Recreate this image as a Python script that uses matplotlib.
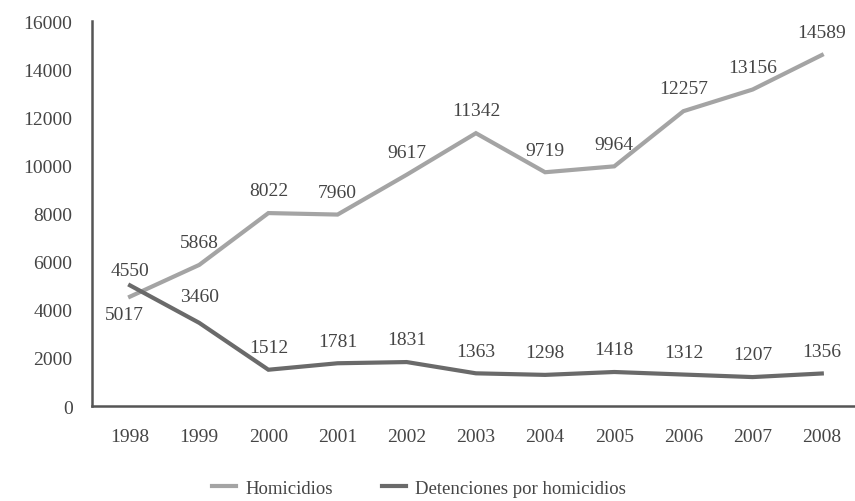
import matplotlib
matplotlib.use("Agg")
import matplotlib.pyplot as plt

years = [1998, 1999, 2000, 2001, 2002, 2003, 2004, 2005, 2006, 2007, 2008]
homicidios = [4550, 5868, 8022, 7960, 9617, 11342, 9719, 9964, 12257, 13156, 14589]
detenciones = [5017, 3460, 1512, 1781, 1831, 1363, 1298, 1418, 1312, 1207, 1356]
y_ticks = [0, 2000, 4000, 6000, 8000, 10000, 12000, 14000, 16000]

plt.rcParams["font.family"] = ["Liberation Serif", "DejaVu Serif"]

light = "#a4a4a4"
dark = "#6a6a6a"
txt = "#454545"

fig = plt.figure(figsize=(8.55, 5.02), dpi=100)
ax = fig.add_axes([0.1076, 0.189, 0.8924, 0.767])

x = list(range(len(years)))
ax.plot(x, homicidios, color=light, lw=3.0, label="Homicidios", solid_joinstyle="miter")
ax.plot(x, detenciones, color=dark, lw=3.0, label="Detenciones por homicidios",
        solid_joinstyle="miter")

# value labels
for i, v in enumerate(homicidios):
    dy = 19 if i == 0 else 16
    ax.annotate(str(v), (i, v), xytext=(0, dy), textcoords="offset points",
                ha="center", va="center", fontsize=14, color=txt)
for i, v in enumerate(detenciones):
    if i == 0:
        off = (-4, -21)
    elif i == 1:
        off = (0, 19)
    else:
        off = (0, 16)
    ax.annotate(str(v), (i, v), xytext=off, textcoords="offset points",
                ha="center", va="center", fontsize=14, color=txt)

ax.set_xlim(-0.55, 10.48)
ax.set_ylim(0, 16000)
ax.set_xticks(x)
ax.set_xticklabels([str(y) for y in years])
ax.set_yticks(y_ticks)
ax.set_yticklabels([str(t) for t in y_ticks])
ax.tick_params(length=0, labelsize=14, colors=txt)
ax.tick_params(axis="x", pad=16)
ax.tick_params(axis="y", pad=14)

for s in ["top", "right"]:
    ax.spines[s].set_visible(False)
for s in ["left", "bottom"]:
    ax.spines[s].set_color("#555555")
    ax.spines[s].set_linewidth(1.8)

fig.legend(loc="lower center", bbox_to_anchor=(0.49, -0.025), ncol=2, frameon=False,
           fontsize=13.5, handlelength=1.3, handletextpad=0.5, columnspacing=2.6,
           labelcolor=txt)

fig.savefig("out.png", dpi=100)
